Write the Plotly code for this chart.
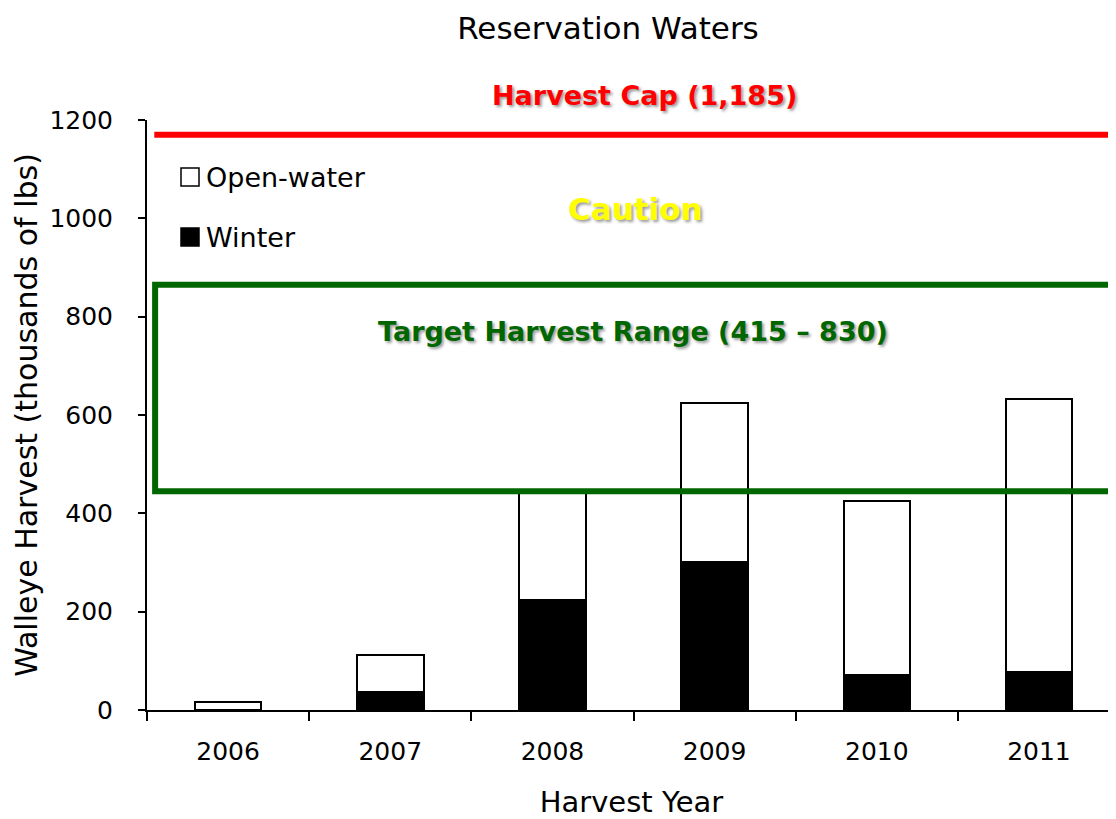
import plotly.graph_objects as go

years = ["2006", "2007", "2008", "2009", "2010", "2011"]
winter = [None, 37, 224, 301, 71, 77]
open_water = [16, 75, 221, 323, 354, 555]
cap_value = 1170
target_low = 445
target_high = 865
y_ticks = [0, 200, 400, 600, 800, 1000, 1200]

FONT = "DejaVu Sans"

# page has an 8px body margin; figure placed so plot area spans page x 147..1116, y 120..710
fig = go.Figure()
fig.add_trace(go.Bar(x=years, y=winter, name="Winter",
                     marker=dict(color="black", line=dict(color="black", width=2)),
                     width=0.41, showlegend=False))
fig.add_trace(go.Bar(x=years, y=open_water, name="Open-water",
                     marker=dict(color="white", line=dict(color="black", width=2)),
                     width=0.41, showlegend=False))

# cap line and target range
fig.add_shape(type="line", xref="x", yref="y", x0=-0.455, x1=6, y0=cap_value, y1=cap_value,
              line=dict(color="#FF0000", width=6))
fig.add_shape(type="rect", xref="x", yref="y", x0=-0.45, x1=6, y0=target_low, y1=target_high,
              line=dict(color="#006600", width=6), fillcolor="rgba(0,0,0,0)")

# annotations
fig.add_annotation(x=2.568, y=1249 / 1200, xref="x", yref="paper", yanchor="middle",
                   text="<b>Harvest Cap (1,185)</b>",
                   showarrow=False, font=dict(family=FONT, size=27, color="#FF0000",
                                              shadow="2px 2px 3px #999999"))
fig.add_annotation(x=2.512, y=1019, xref="x", yref="y", yanchor="middle", text="<b>Caution</b>",
                   showarrow=False, font=dict(family=FONT, size=31, color="#FFFF00",
                                              shadow="2px 2px 3px #999999"))
fig.add_annotation(x=2.494, y=769, xref="x", yref="y", yanchor="middle",
                   text="<b>Target Harvest Range (415 – 830)</b>",
                   showarrow=False, font=dict(family=FONT, size=27, color="#006600",
                                              shadow="2px 2px 3px #999999"))

# manual legend
legend_items = [("Open-water", "white", 177), ("Winter", "black", 237)]
for label, col, ypx in legend_items:
    yc = 1 - (ypx - 120) / 590
    fig.add_shape(type="rect", xref="paper", yref="paper",
                  x0=(181 - 147) / 969, x1=(199 - 147) / 969,
                  y0=yc - 9 / 590, y1=yc + 9 / 590,
                  line=dict(color="black", width=1.5), fillcolor=col)
    fig.add_annotation(xref="paper", yref="paper", x=(204 - 147) / 969, y=yc,
                       xanchor="left", yanchor="middle", text=label, showarrow=False,
                       font=dict(family=FONT, size=27, color="black"))

fig.update_layout(
    width=1108, height=811,
    margin=dict(l=139, r=0, t=112, b=109),
    paper_bgcolor="white", plot_bgcolor="white",
    barmode="stack", bargap=0.59,
    showlegend=False,
    font=dict(family=FONT, size=25, color="black"),
    title=dict(text="Reservation Waters", x=600 / 1108, xanchor="center", xref="container",
               y=1 - 20 / 811, yanchor="middle", yref="container",
               font=dict(family=FONT, size=31, color="black")),
    xaxis=dict(type="category", range=[-0.5, 5.475], showline=True, linecolor="black", linewidth=2,
               ticks="outside", tickson="boundaries", ticklen=9, tickwidth=2, tickcolor="black",
               showgrid=False, zeroline=False, ticklabelstandoff=18,
               tickfont=dict(family=FONT, size=25),
               title=dict(text="Harvest Year", font=dict(family=FONT, size=29), standoff=28)),
    yaxis=dict(range=[0, 1200], tickvals=y_ticks, showline=True, linecolor="black", linewidth=2,
               ticks="outside", ticklen=7, tickwidth=2, tickcolor="black",
               showgrid=False, zeroline=False, ticklabelstandoff=20,
               tickfont=dict(family=FONT, size=25),
               title=dict(text="Walleye Harvest (thousands of lbs)", font=dict(family=FONT, size=30),
                          standoff=3)),
)

fig.write_html("out.html")
